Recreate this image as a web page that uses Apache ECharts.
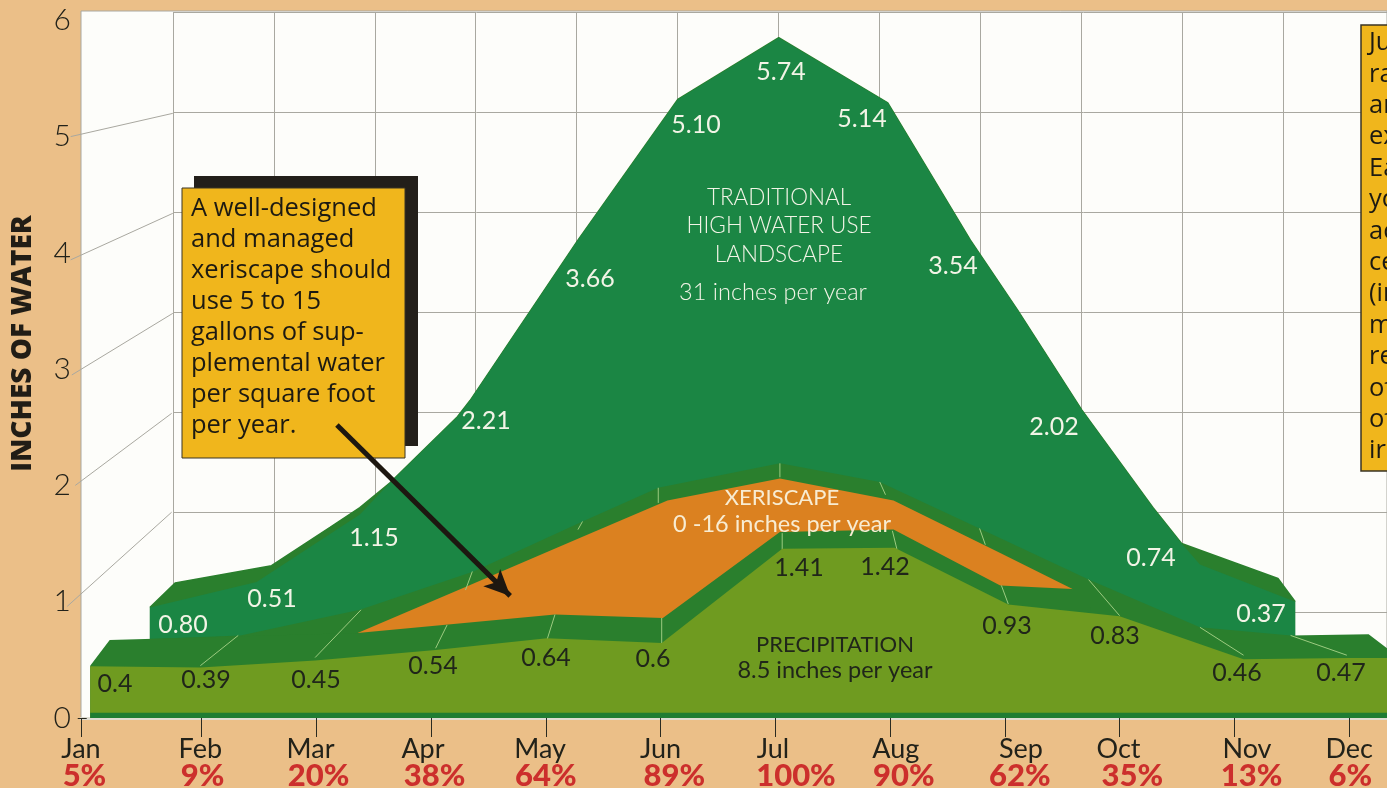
<!DOCTYPE html>
<html>
<head>
<meta charset="utf-8">
<title>Inches of water</title>
<style>
  html, body { margin: 0; padding: 0; background: #ebbf88; }
  #main { width: 1387px; height: 788px; }
</style>
<script src="https://cdn.jsdelivr.net/npm/echarts@6/dist/echarts.min.js"></script>
</head>
<body>
<div id="main"></div>
<script>
// month positions on the x axis are read off the picture, the drawing is not quite regular
const months = ['Jan', 'Feb', 'Mar', 'Apr', 'May', 'Jun', 'Jul', 'Aug', 'Sep', 'Oct', 'Nov', 'Dec'];
const percents = ['5%', '9%', '20%', '38%', '64%', '89%', '100%', '90%', '62%', '35%', '13%', '6%'];
const monthTicks = [-0.05, 1, 2, 3, 4, 5, 6, 7, 8, 9, 10, 11];
const monthLabelAt = [-0.05, 0.99, 1.95, 2.93, 3.95, 5, 5.98, 7.05, 8.14, 8.99, 10.11, 11];
const percentLabelAt = [-0.02, 1.01, 2.02, 3.03, 4, 5.12, 6.18, 7.12, 8.13, 9.11, 10.15, 11.01];
const inchTicks = [0, 1, 2, 3, 4, 5, 6];

// printed values
const precipitation = [0.4, 0.39, 0.45, 0.54, 0.64, 0.6, 1.41, 1.42, 0.93, 0.83, 0.46, 0.47];
const precipitationAt = [0.03, 0.99, 1.99, 3.04, 4.01, 5.01, 6.06, 7.04, 8.03, 9, 10.08, 10.98];
const traditional = [0.80, 0.51, 1.15, 2.21, 3.66, 5.10, 5.74, 5.14, 3.54, 2.02, 0.74, 0.37];

// the drawn surfaces, [month, inches] as they sit on the picture
const traditionalBack = [[0.55, 0.95], [0.77, 1.16], [1.61, 1.31], [2.12, 1.64], [2.38, 1.81], [2.64, 2.02],
  [3.23, 2.59], [3.34, 2.73], [4.28, 4.11], [5.15, 5.32], [6.03, 5.85], [6.98, 5.29], [7.7, 4.11],
  [8.11, 3.51], [8.67, 2.65], [9.29, 1.81], [9.54, 1.5], [10.38, 1.2], [10.53, 1]];
const traditionalFace = [[0.55, 0.95], [1.48, 1.17], [2.38, 1.75], [2.64, 2.02],
  [3.23, 2.59], [3.34, 2.73], [4.28, 4.11], [5.15, 5.32], [6.03, 5.85], [6.98, 5.29], [7.7, 4.11],
  [8.11, 3.51], [8.67, 2.65], [9.29, 1.81], [9.54, 1.5], [9.7, 1.32], [10.53, 1]];
const xeriscapeBack = [[0.55, 0.68], [1.34, 0.71], [2.38, 0.93], [3.37, 1.26], [4.32, 1.69], [4.98, 1.98],
  [6.04, 2.19], [6.91, 2.03], [7.78, 1.63], [8.73, 1.19], [9.7, 0.78], [10.49, 0.71], [11.17, 0.72], [11.33, 0.6]];
const xeriscapeTop = [[2.36, 0.73], [3.31, 1.13], [4.3, 1.55], [5.06, 1.87], [6.04, 2.06], [7.03, 1.87],
  [7.96, 1.42], [8.59, 1.11]];
const precipitationBack = [[0.03, 0.45], [0.2, 0.67], [2.36, 0.73], [4.08, 0.89], [5.02, 0.86], [6.04, 1.6],
  [7.03, 1.62], [7.96, 1.14], [8.59, 1.11], [8.75, 0.95]];
// thin pale creases: [month, inches, month, inches]
const creases = [[0.99, 0.45, 1.32, 0.71], [1.99, 0.52, 2.39, 0.93], [3.04, 0.6, 3.14, 0.8], [3.3, 1.1, 3.36, 1.26],
  [4.01, 0.67, 4.08, 0.89], [4.28, 1.62, 4.32, 1.69], [5.01, 0.64, 5.01, 0.86], [4.98, 1.85, 4.98, 1.98],
  [6.06, 1.45, 6.06, 1.59], [6.04, 2.07, 6.04, 2.19], [7.06, 1.45, 7.02, 1.61], [6.96, 1.92, 6.91, 2.03],
  [8.03, 0.98, 7.97, 1.14], [7.83, 1.49, 7.78, 1.63], [9, 0.88, 8.73, 1.19], [10.08, 0.54, 9.7, 0.78],
  [10.98, 0.54, 10.49, 0.71]];
// links from the front scale to the back wall
const wallLinks = [[-0.14, 5, 0.75, 5.2], [-0.14, 3.94, 0.75, 4.34], [-0.13, 2.95, 0.75, 3.48],
  [-0.1, 2, 0.74, 2.62], [-0.17, 0.96, 0.74, 1.77]];
const arrowFrom = [2.18, 2.52];
const arrowTo = [3.69, 1.05];

const xMin = -0.05;
const xMax = 11.33;
const floorLift = 0.045; // the coloured blocks stand on a thin base above the axis

const colorDark = '#2a7f2d';
const colorFace = '#1b8644';
const colorOrange = '#db8120';
const colorPrecip = '#6f9b20';
const colorBase = '#1f7d33';
const colorPaper = '#f2f4e6';
const colorInk = '#20261a';
const colorWall = '#a9a8a0';
const colorYellow = '#f0b61c';
const colorRed = '#cc2f2c';

const precipFront = precipitation.map((v, i) => [precipitationAt[i], v + floorLift]);
precipFront.push([xMax, precipitation[11] + floorLift]);

const area = (name, data, color, z, lineWidth) => ({
  name,
  type: 'line',
  xAxisIndex: 0,
  yAxisIndex: 0,
  data,
  z,
  symbol: 'none',
  silent: true,
  lineStyle: { color: colorDark, width: lineWidth || 0 },
  areaStyle: { color, opacity: 1, origin: 'start' },
});

const segments = (name, data, color, width, z) => ({
  name,
  type: 'custom',
  xAxisIndex: 0,
  yAxisIndex: 0,
  data,
  z,
  silent: true,
  clip: false,
  renderItem: (params, api) => {
    const a = api.coord([api.value(0), api.value(1)]);
    const b = api.coord([api.value(2), api.value(3)]);
    return {
      type: 'line',
      shape: { x1: a[0], y1: a[1], x2: b[0], y2: b[1] },
      style: { stroke: color, lineWidth: width },
    };
  },
});

const text = (str, x, y, color, font, align) => ({
  type: 'text',
  x,
  y,
  z: 70,
  silent: true,
  style: {
    text: str,
    fill: color,
    font,
    align: align || 'center',
    verticalAlign: 'middle',
  },
});

const tradLabelSpots = [[183, 625], [272, 599], [374, 538], [486, 421], [590, 279], [696, 125], [781, 72],
  [862, 119], [953, 266], [1054, 427], [1151, 558], [1261, 614]];
const precipLabelSpots = [[115, 684], [206, 680], [316, 680], [433, 666], [546, 658], [653, 659], [799, 568],
  [885, 567], [1007, 626], [1115, 636], [1237, 673], [1341, 673]];
const noteLines = ['A well-designed', 'and managed', 'xeriscape should', 'use 5 to 15', 'gallons of sup-',
  'plemental water', 'per square foot', 'per year.'];
const sideLines = ['Ju', 'ra', 'ar', 'ex', 'Ea', 'yo', 'ac', 'ce', '(ir', 'm', 're', 'of', 'of', 'ir'];

const graphics = [
  { type: 'rect', z: 50, silent: true, shape: { x: 194, y: 176, width: 224, height: 270 }, style: { fill: '#231f1a' } },
  { type: 'rect', z: 51, silent: true, shape: { x: 182, y: 188, width: 223, height: 270 },
    style: { fill: colorYellow, stroke: '#3a3424', lineWidth: 1 } },
  { type: 'rect', z: 51, silent: true, shape: { x: 1361, y: 25, width: 40, height: 446 },
    style: { fill: colorYellow, stroke: '#3a3424', lineWidth: 1.5 } },
];
noteLines.forEach((line, i) => {
  graphics.push(text(line, 191, 209 + i * 31, '#1d1a12', '25.5px "Open Sans"', 'left'));
});
sideLines.forEach((line, i) => {
  graphics.push(text(line, 1369, 43 + i * 31.4, '#1d1a12', '25.5px "Open Sans"', 'left'));
});
traditional.forEach((v, i) => {
  graphics.push(text(v.toFixed(2), tradLabelSpots[i][0], tradLabelSpots[i][1], colorPaper, '25px Lato'));
});
precipitation.forEach((v, i) => {
  graphics.push(text(String(v), precipLabelSpots[i][0], precipLabelSpots[i][1], colorInk, '25px Lato'));
});
graphics.push(
  text('TRADITIONAL', 779, 198, colorPaper, '300 22.5px Lato'),
  text('HIGH WATER USE', 779, 226, colorPaper, '300 22.5px Lato'),
  text('LANDSCAPE', 779, 255, colorPaper, '300 22.5px Lato'),
  text('31 inches per year', 773, 292, colorPaper, '300 23.5px Lato'),
  text('XERISCAPE', 782, 498, '#f8ecd2', '22px Lato'),
  text('0 -16 inches per year', 782, 524, '#f8ecd2', '23.5px Lato'),
  text('PRECIPITATION', 835, 645, colorInk, '22px Lato'),
  text('8.5 inches per year', 835, 670, colorInk, '23.5px Lato')
);

const chart = echarts.init(document.getElementById('main'));
chart.setOption({
  animation: false,
  backgroundColor: '#ebbf88',
  grid: [
    { left: 81, top: 11, width: 1306, height: 707, outerBoundsMode: 'none', show: true, backgroundColor: '#fdfdfa', borderColor: colorWall, borderWidth: 1 },
    { left: 173, top: 12, width: 1214, height: 600, outerBoundsMode: 'none' },
  ],
  xAxis: [
    {
      type: 'value', gridIndex: 0, min: xMin, max: xMax,
      splitLine: { show: false },
      axisLine: { lineStyle: { color: '#dedcd2', width: 3 } },
      axisTick: { show: true, customValues: monthTicks, length: 19, lineStyle: { color: '#2a2a20', width: 1 } },
      axisLabel: {
        customValues: monthLabelAt, margin: 18, color: '#22221a', fontSize: 27, fontFamily: 'Lato',
        hideOverlap: false,
        formatter: (v) => months[monthLabelAt.indexOf(v)],
      },
    },
    {
      type: 'value', gridIndex: 0, min: xMin, max: xMax, position: 'bottom',
      splitLine: { show: false },
      axisLine: { show: false },
      axisTick: { show: false },
      axisLabel: {
        customValues: percentLabelAt, margin: 42, color: colorRed, fontSize: 31, fontWeight: 900, fontFamily: 'Lato',
        hideOverlap: false,
        formatter: (v) => percents[percentLabelAt.indexOf(v)],
      },
    },
    {
      type: 'value', gridIndex: 1, min: 0, max: 12.03,
      axisLine: { show: false },
      axisTick: { show: false, customValues: [0, 1, 2, 3, 4, 5, 6, 7, 8, 9, 10, 11] },
      axisLabel: { show: false },
      splitLine: { show: true, lineStyle: { color: colorWall, width: 1 } },
    },
  ],
  yAxis: [
    {
      type: 'value', gridIndex: 0, min: 0, max: 6.08,
      name: 'INCHES OF WATER',
      nameLocation: 'middle',
      nameGap: 44,
      nameRotate: 90,
      nameTextStyle: { color: '#211d16', fontSize: 28, fontWeight: 800, fontFamily: 'Open Sans', padding: [0, 0, 0, 42] },
      splitLine: { show: false },
      axisLine: { show: false },
      axisTick: { show: true, customValues: [0], length: 9, lineStyle: { color: '#2a2a20' } },
      axisLabel: {
        customValues: inchTicks, margin: 10, color: '#22221a', fontSize: 30, fontWeight: 300, fontFamily: 'Lato',
      },
    },
    {
      type: 'value', gridIndex: 1, min: 0, max: 6, interval: 1,
      axisLine: { show: false },
      axisTick: { show: false },
      axisLabel: { show: false },
      splitLine: { show: true, lineStyle: { color: colorWall, width: 1 } },
    },
  ],
  graphic: graphics,
  series: [
    segments('Wall links', wallLinks, colorWall, 1, 3),
    area('Traditional back', traditionalBack, colorDark, 10, 1.5),
    area('Traditional high water use landscape', traditionalFace, colorFace, 11),
    area('Xeriscape back', xeriscapeBack, colorDark, 12),
    area('Xeriscape', xeriscapeTop, colorOrange, 14),
    area('Precipitation back', precipitationBack, colorDark, 15),
    segments('Creases', creases, '#9ccb80', 1, 16),
    area('Precipitation', precipFront, colorPrecip, 17),
    area('Base', [[precipitationAt[0], floorLift], [xMax, floorLift]], colorBase, 18),
    {
      name: 'Arrow',
      type: 'line',
      xAxisIndex: 0,
      yAxisIndex: 0,
      data: [],
      z: 60,
      silent: true,
      markLine: {
        silent: true,
        z: 60,
        symbol: ['none', 'arrow'],
        symbolSize: [18, 26],
        label: { show: false },
        lineStyle: { color: '#1d1710', width: 5, type: 'solid' },
        data: [[{ coord: arrowFrom }, { coord: arrowTo }]],
      },
    },
  ],
});
</script>
</body>
</html>
